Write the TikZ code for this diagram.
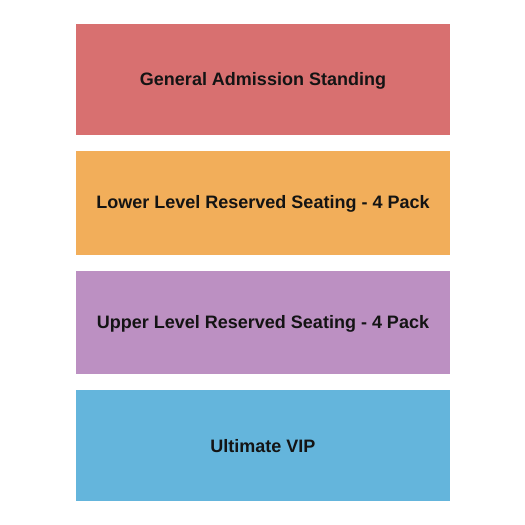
\documentclass[tikz,border=0pt]{standalone}
\usepackage{fontspec}
\setmainfont{Liberation Sans}
\definecolor{cred}{HTML}{D87070}
\definecolor{corange}{HTML}{F2AE5A}
\definecolor{cpurple}{HTML}{BC90C2}
\definecolor{cblue}{HTML}{64B5DC}
\begin{document}
\begin{tikzpicture}[x=1pt,y=-1pt,
  sect/.style={draw=none,inner sep=0pt,font=\fontsize{18}{20}\selectfont\bfseries,text=black!92}]
\useasboundingbox (0,0) rectangle (525,525);
\fill[white] (0,0) rectangle (525,525);
\fill[cred] (76,24) rectangle (450,135);
\fill[corange] (76,151) rectangle (450,255);
\fill[cpurple] (76,271) rectangle (450,373.5);
\fill[cblue] (76,390) rectangle (450,501);
\node[sect] (ga) at (263,80.5) {General Admission Standing};
\node[sect] (ll) at (263,204) {Lower Level Reserved Seating - 4 Pack};
\node[sect] (ul) at (263,323.5) {Upper Level Reserved Seating - 4 Pack};
\node[sect] (vip) at (263,446.5) {Ultimate VIP};
\end{tikzpicture}
\end{document}
